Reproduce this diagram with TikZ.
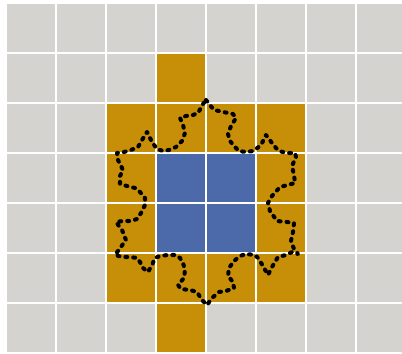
\documentclass[tikz,border=0pt]{standalone}
\usepackage{tikz}
\usetikzlibrary{calc}
\definecolor{cellgray}{HTML}{D5D3CF}
\definecolor{ringgold}{HTML}{C78F08}
\definecolor{coreblue}{HTML}{4C69A9}
\tikzset{
	graycell/.style={fill=cellgray},
	ringcell/.style={fill=ringgold},
	corecell/.style={fill=coreblue},
	dotline/.style={line width=2.3pt, line cap=round, line join=round, dash pattern=on 1.1pt off 3.4pt}
}
\newcommand{\gcell}[3]{\fill[#3] (7+50*#1,4+50*#2) rectangle ++(48,48);}

\begin{document}
\begin{tikzpicture}[x=0.02cm, y=-0.02cm]
      \useasboundingbox (0,0) rectangle (402,354);
      \fill[white] (0,0) rectangle (402,354);
      % background grid
      \foreach \i in {0,...,7}
        \foreach \j in {0,...,6}
          \gcell{\i}{\j}{graycell};
      % ring of cells round the core
      \foreach \i/\j in {3/1, 2/2, 3/2, 4/2, 5/2, 2/3, 5/3, 2/4, 5/4, 2/5, 3/5, 4/5, 5/5, 3/6}
        \gcell{\i}{\j}{ringcell};
      % core
      \foreach \i/\j in {3/3, 4/3, 3/4, 4/4}
        \gcell{\i}{\j}{corecell};
      % jagged boundary
      \draw[dotline] (206,100) -- (209,104) -- (214,110) -- (233,114) -- (236,118)
        -- (231,126) -- (228,134) -- (230,141) -- (235,147) -- (239,151)
        -- (246,152) -- (253,151) -- (256,149) -- (261,145) -- (266,135)
        -- (272,143) -- (276,148) -- (279,151) -- (287,153) -- (295,153)
        -- (296,157) -- (292,166) -- (294,175) -- (295,183) -- (280,187)
        -- (272,196) -- (268,203) -- (270,211) -- (277,221) -- (287,222)
        -- (294,223) -- (293,232) -- (291,241) -- (294,249) -- (298,254)
        -- (292,252) -- (286,255) -- (278,257) -- (272,267) -- (268,275)
        -- (263,266) -- (258,258) -- (255,255) -- (246,254) -- (240,256)
        -- (234,261) -- (229,268) -- (228,276) -- (233,282) -- (234,288)
        -- (226,291) -- (219,292) -- (212,298) -- (207,305) -- (202,300)
        -- (197,292) -- (190,290) -- (181,289) -- (178,285) -- (184,278)
        -- (185,270) -- (183,263) -- (180,258) -- (176,255) -- (168,255)
        -- (160,256) -- (155,258) -- (152,265) -- (148,272) -- (143,268)
        -- (140,262) -- (137,258) -- (130,257) -- (122,257) -- (115,255)
        -- (126,240) -- (122,230) -- (116,222) -- (123,221) -- (131,221)
        -- (137,219) -- (141,213) -- (145,205) -- (145,198) -- (140,192)
        -- (135,188) -- (127,186) -- (120,184) -- (120,176) -- (123,170)
        -- (118,160) -- (117,153) -- (124,152) -- (131,150) -- (138,147)
        -- (142,140) -- (147,132) -- (152,142) -- (157,149) -- (163,151)
        -- (169,150) -- (176,147) -- (182,141) -- (185,133) -- (183,125)
        -- (180,118) -- (186,116) -- (193,115) -- (198,113) -- (203,104) -- cycle;
    \end{tikzpicture}
\end{document}
